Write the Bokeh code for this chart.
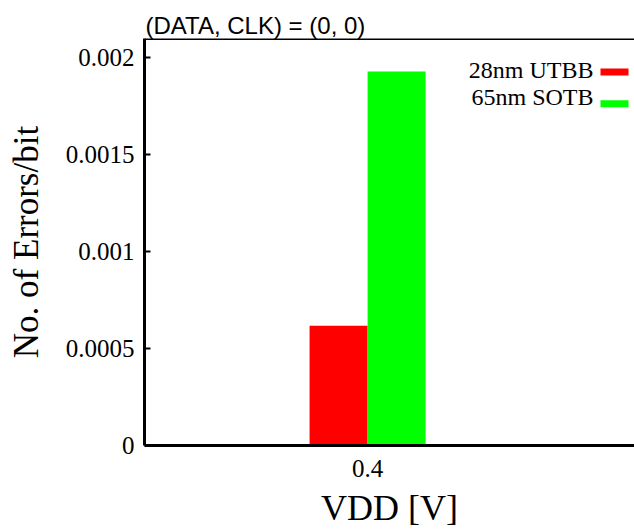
from bokeh.plotting import figure
from bokeh.models import Range1d, FixedTicker, Span, Label, BoxAnnotation
from bokeh.transform import dodge
from bokeh.models import ColumnDataSource
from bokeh.embed import file_html
from bokeh.resources import INLINE

# ---- data ----
vdd = [0.4]
vdd_labels = ["0.4"]
series_names = ["28nm UTBB", "65nm SOTB"]
series_colors = ["#ff0000", "#00ff00"]
utbb_28nm = [0.000618]
sotb_65nm = [0.00193]
y_ticks = [0, 0.0005, 0.001, 0.0015, 0.002]
y_tick_labels = ["0", "0.0005", "0.001", "0.0015", "0.002"]
title_text = "(DATA, CLK) = (0, 0)"

SERIF = "Liberation Serif"
SANS = "Liberation Sans"

X0, X1 = 0.0155, 0.86
Y0, Y1 = 0.0, 0.0021
BAR_W = 0.1

p = figure(width=634, height=530, output_backend="svg", toolbar_location=None,
           x_range=Range1d(X0, X1), y_range=Range1d(Y0, Y1),
           min_border_left=144, min_border_right=0, min_border_top=38,
           min_border_bottom=84)
p.outline_line_color = None
p.grid.visible = False
p.background_fill_color = "white"
p.border_fill_color = "white"

src = ColumnDataSource(dict(x=vdd, a=utbb_28nm, b=sotb_65nm))
p.vbar(x=dodge("x", -BAR_W / 2, range=p.x_range), top="a", width=BAR_W, bottom=0,
       source=src, fill_color=series_colors[0], line_color=None)
p.vbar(x=dodge("x", BAR_W / 2, range=p.x_range), top="b", width=BAR_W, bottom=0,
       source=src, fill_color=series_colors[1], line_color=None)

# title
p.title.text = title_text
p.title.text_font = SANS
p.title.text_font_size = "24px"
p.title.text_font_style = "normal"
p.title.text_color = "black"
p.title.align = "left"
p.title.standoff = 0
p.title.offset = 1

# top frame line
p.add_layout(Span(location=Y1, dimension="width", line_color="black", line_width=3))

# y axis
ya = p.yaxis[0]
ya.ticker = FixedTicker(ticks=y_ticks)
ya.major_label_overrides = {t: l for t, l in zip(y_ticks, y_tick_labels)}
ya.major_label_text_font = SERIF
ya.major_label_text_font_size = "25px"
ya.major_label_text_color = "black"
ya.major_label_standoff = 10
ya.major_tick_in = 6
ya.major_tick_out = 0
ya.major_tick_line_width = 2
ya.major_tick_line_color = "black"
ya.minor_tick_line_color = None
ya.axis_line_width = 3
ya.axis_line_color = "black"
ya.axis_label = "No. of Errors/bit"
ya.axis_label_text_font = SERIF
ya.axis_label_text_font_size = "35px"
ya.axis_label_text_font_style = "normal"
ya.axis_label_text_color = "black"
ya.axis_label_standoff = 17

# x axis
xa = p.xaxis[0]
xa.ticker = FixedTicker(ticks=vdd)
xa.major_label_overrides = {t: l for t, l in zip(vdd, vdd_labels)}
xa.major_label_text_font = SERIF
xa.major_label_text_font_size = "25px"
xa.major_label_text_color = "black"
xa.major_label_standoff = 8
xa.major_tick_line_color = None
xa.minor_tick_line_color = None
xa.axis_line_width = 3
xa.axis_line_color = "black"
xa.axis_label = "VDD [V]"
xa.axis_label_text_font = SERIF
xa.axis_label_text_font_size = "36px"
xa.axis_label_text_font_style = "normal"
xa.axis_label_text_color = "black"
xa.axis_label_standoff = 8

# legend (label left of swatch), positioned in frame pixels
FRAME_W, FRAME_H = 490.0, 408.0
def dx(px):
    return X0 + (X1 - X0) * px / FRAME_W
def dy(px):
    return Y1 - (Y1 - Y0) * px / FRAME_H

legend_rows = [(32, 33), (59, 65)]  # (text centre, swatch centre) in frame px
for (ty, sy), name, col in zip(legend_rows, series_names, series_colors):
    p.add_layout(Label(x=dx(449), y=dy(ty), text=name, text_align="right",
                       text_baseline="middle", text_font=SERIF,
                       text_font_size="24px", text_color="black"))
    p.add_layout(BoxAnnotation(left=dx(456), right=dx(484), top=dy(sy - 3),
                               bottom=dy(sy + 4), fill_color=col, fill_alpha=1.0,
                               line_color=None))

open("out.html", "w").write(file_html(p, INLINE))
